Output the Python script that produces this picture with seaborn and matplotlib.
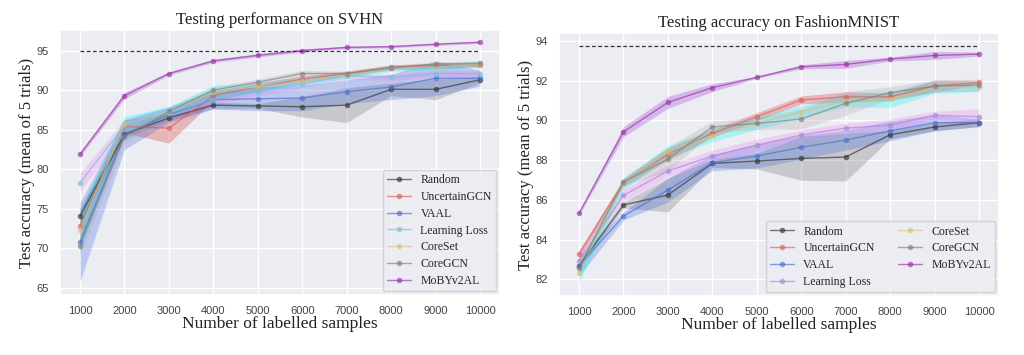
import numpy as np
import pandas as pd
import matplotlib
matplotlib.use("Agg")
import matplotlib.pyplot as plt
import seaborn as sns

samples = [1000, 2000, 3000, 4000, 5000, 6000, 7000, 8000, 9000, 10000]
methods = ["Random", "UncertainGCN", "VAAL", "Learning Loss", "CoreSet", "CoreGCN", "MoBYv2AL"]

# SVHN: mean accuracy and spread over 5 trials
svhn_mean = {
    "Random":        [74.1, 84.4, 86.5, 88.1, 88.0, 87.9, 88.1, 90.1, 90.1, 91.3],
    "UncertainGCN":  [72.8, 85.4, 85.2, 89.3, 90.4, 91.4, 92.1, 92.9, 93.1, 93.2],
    "VAAL":          [70.8, 84.4, 86.9, 88.8, 88.9, 89.0, 89.8, 90.4, 91.5, 91.5],
    "Learning Loss": [78.3, 85.5, 87.1, 88.8, 89.8, 90.8, 91.8, 91.6, 92.1, 92.1],
    "CoreSet":       [72.3, 85.7, 87.2, 89.8, 90.4, 91.1, 91.9, 92.8, 92.9, 93.3],
    "CoreGCN":       [70.3, 84.1, 87.3, 90.0, 91.0, 92.1, 92.1, 92.8, 93.3, 93.4],
    "MoBYv2AL":      [81.9, 89.3, 92.1, 93.7, 94.4, 95.0, 95.4, 95.5, 95.8, 96.05],
}
svhn_std = {
    "Random":        [1.0, 0.5, 0.3, 0.4, 0.3, 1.3, 2.2, 0.8, 1.3, 0.4],
    "UncertainGCN":  [2.0, 0.8, 1.9, 0.6, 0.5, 0.4, 0.3, 0.3, 0.3, 0.3],
    "VAAL":          [5.0, 1.9, 1.0, 1.2, 1.5, 1.6, 1.5, 1.6, 2.2, 1.0],
    "Learning Loss": [1.2, 0.8, 0.7, 0.6, 0.5, 0.5, 0.4, 0.4, 0.4, 0.4],
    "CoreSet":       [2.5, 1.0, 0.7, 0.8, 0.6, 0.5, 0.4, 0.4, 0.4, 0.4],
    "CoreGCN":       [1.2, 0.8, 0.5, 0.4, 0.4, 0.4, 0.3, 0.3, 0.3, 0.3],
    "MoBYv2AL":      [0.3, 0.4, 0.2, 0.2, 0.2, 0.2, 0.15, 0.15, 0.15, 0.15],
}
svhn_full = 95.0

# FashionMNIST
fmnist_mean = {
    "Random":        [82.67, 85.74, 86.24, 87.83, 87.95, 88.08, 88.15, 89.27, 89.66, 89.88],
    "UncertainGCN":  [83.26, 86.86, 88.29, 89.34, 90.18, 91.02, 91.18, 91.18, 91.72, 91.90],
    "VAAL":          [82.67, 85.18, 86.49, 87.87, 88.20, 88.64, 89.00, 89.47, 89.88, 89.88],
    "Learning Loss": [82.92, 86.22, 87.45, 88.20, 88.75, 89.26, 89.60, 89.76, 90.25, 90.18],
    "CoreSet":       [82.33, 86.80, 88.42, 89.22, 89.84, 90.43, 90.97, 91.05, 91.65, 91.65],
    "CoreGCN":       [82.55, 86.90, 88.05, 89.66, 89.84, 90.06, 90.85, 91.39, 91.72, 91.77],
    "MoBYv2AL":      [85.32, 89.42, 90.90, 91.64, 92.16, 92.69, 92.81, 93.08, 93.26, 93.33],
}
fmnist_std = {
    "Random":        [0.2, 0.15, 0.85, 0.2, 0.4, 1.1, 1.2, 0.2, 0.2, 0.2],
    "UncertainGCN":  [0.2, 0.2, 0.3, 0.2, 0.2, 0.2, 0.25, 0.2, 0.3, 0.1],
    "VAAL":          [0.5, 0.2, 0.6, 0.4, 0.6, 0.6, 0.5, 0.5, 0.4, 0.2],
    "Learning Loss": [0.3, 0.3, 0.3, 0.3, 0.3, 0.25, 0.25, 0.3, 0.2, 0.4],
    "CoreSet":       [0.5, 0.3, 0.3, 0.3, 0.3, 0.3, 0.3, 0.4, 0.3, 0.2],
    "CoreGCN":       [0.3, 0.2, 0.6, 0.3, 0.3, 0.5, 0.6, 0.3, 0.3, 0.3],
    "MoBYv2AL":      [0.1, 0.25, 0.3, 0.2, 0.05, 0.1, 0.2, 0.1, 0.2, 0.1],
}
fmnist_full = 93.75

fill_colors = {
    "Random": "dimgray", "UncertainGCN": "tab:red", "VAAL": "royalblue",
    "Learning Loss": "violet", "CoreSet": "cyan", "CoreGCN": "darkgray",
    "MoBYv2AL": "darkorchid",
}
line_svhn = {
    "Random": "#333333", "UncertainGCN": "#d9605a", "VAAL": "#4a6fd0",
    "Learning Loss": "#6cc3dc", "CoreSet": "#d8c07a", "CoreGCN": "#808080",
    "MoBYv2AL": "#9a2fa6",
}
line_fmnist = dict(line_svhn)
line_fmnist["Learning Loss"] = "#a08ad8"

sns.set_theme(style="darkgrid", rc={"axes.facecolor": "#ECECF3"})
serif = "Liberation Serif"
plt.rcParams["font.family"] = ["Liberation Sans", "DejaVu Sans"]

fig = plt.figure(figsize=(10.24, 3.55), dpi=100)
ax1 = fig.add_axes([60 / 1024, 60 / 355, 440 / 1024, 265 / 355])
ax2 = fig.add_axes([559 / 1024, 59 / 355, 440 / 1024, 263 / 355])


def draw(ax, means, stds, lines, full, title, ylim, yticks, ncol):
    rows = []
    for m in methods:
        for s, v in zip(samples, means[m]):
            rows.append({"samples": s, "acc": v, "method": m})
    df = pd.DataFrame(rows)
    for m in methods:
        mu = np.array(means[m])
        sd = np.array(stds[m])
        ax.fill_between(samples, mu - sd, mu + sd, color=fill_colors[m],
                        alpha=0.28, linewidth=0)
    sns.lineplot(data=df, x="samples", y="acc", hue="method", hue_order=methods,
                 palette=lines, marker="o", markersize=4, markeredgewidth=0,
                 linewidth=1.0, alpha=0.65, ax=ax)
    ax.plot([samples[0], samples[-1]], [full, full], color="#333333",
            linestyle=(0, (3, 2)), linewidth=0.9)
    ax.set_xticks(samples)
    ax.set_yticks(yticks)
    ax.set_ylim(*ylim)
    ax.tick_params(labelsize=8, pad=2, labelcolor="#444444")
    ax.set_title(title, family=serif, fontsize=12, pad=4, color="#222222")
    ax.set_xlabel("Number of labelled samples", family=serif, fontsize=12.5,
                  labelpad=0, color="#222222")
    ax.set_ylabel("Test accuracy (mean of 5 trials)", family=serif, fontsize=12,
                  labelpad=1, color="#222222")
    ax.legend(loc="lower right", ncol=ncol, prop={"family": serif, "size": 8.5},
              columnspacing=2.0, handlelength=2.0, labelspacing=0.4,
              borderaxespad=0.3)


draw(ax1, svhn_mean, svhn_std, line_svhn, svhn_full, "Testing performance on SVHN",
     (64.1, 97.6), [65, 70, 75, 80, 85, 90, 95], 1)
draw(ax2, fmnist_mean, fmnist_std, line_fmnist, fmnist_full, "Testing accuracy on FashionMNIST",
     (81.16, 94.39), [82, 84, 86, 88, 90, 92, 94], 2)

fig.savefig("out.png", dpi=100)
